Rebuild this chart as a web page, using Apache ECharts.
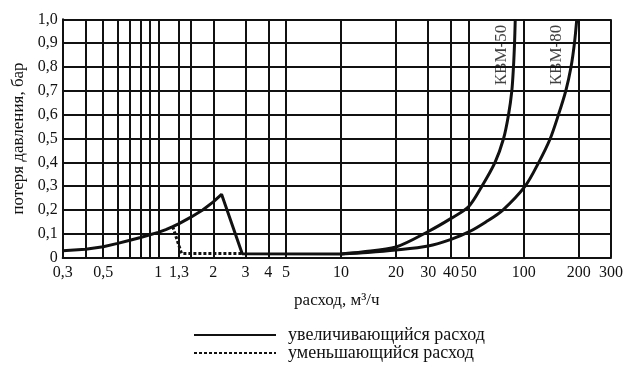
<!DOCTYPE html>
<html>
<head>
<meta charset="utf-8">
<script src="https://cdn.jsdelivr.net/npm/echarts@6/dist/echarts.min.js"></script>
<style>html,body{margin:0;padding:0;background:#fff}#c{width:631px;height:373px}</style>
</head>
<body>
<div id="c"></div>
<script>
// ---- data ----
const xTickLabels = [0.3, 0.5, 1, 1.3, 2, 3, 4, 5, 10, 20, 30, 40, 50, 100, 200, 300];
const xGridValues = [0.4, 0.5, 0.6, 0.7, 0.8, 0.9, 1, 1.3, 1.5, 2, 3, 4, 5, 10, 20, 30, 40, 50, 100, 200, 300];
const increasingLow = [[0.3,0.029],[0.4,0.035],[0.5,0.046],[0.6,0.06],[0.7,0.073],[0.8,0.085],[0.9,0.096],[1.0,0.106],[1.1,0.118],[1.2,0.13],[1.3,0.143],[1.5,0.169],[1.75,0.2],[2.0,0.234],[2.22,0.266],[2.88,0.017],[10,0.016]];
const decreasing = [[1.2,0.13],[1.34,0.018],[2.88,0.018]];
const kbm50 = [[10,0.016],[13,0.024],[20,0.045],[30,0.11],[40,0.165],[50,0.215],[59,0.3],[69.6,0.4],[77.5,0.5],[82.5,0.6],[86,0.7],[87.8,0.8],[89,0.9],[89.8,1.0]];
const kbm80 = [[10,0.016],[14,0.022],[20,0.032],[30,0.049],[40,0.077],[50,0.108],[62,0.15],[76.8,0.2],[101.7,0.3],[120.8,0.4],[139.6,0.5],[154.8,0.6],[169.7,0.7],[181.3,0.8],[189.3,0.9],[194.9,1.0]];
const curveLabels = [[75.8,0.85,'КВМ-50'],[151,0.85,'КВМ-80']];
const legendNames = ['увеличивающийся расход', 'уменьшающийся расход'];

const FONT = 'Liberation Serif';
const INK = '#111';
const chart = echarts.init(document.getElementById('c'), null, {renderer: 'canvas'});
const lineBase = {type: 'line', symbol: 'none', showSymbol: false, z: 5};
chart.setOption({
  animation: false,
  backgroundColor: '#fff',
  grid: {left: 62.7, right: 20, top: 19.3, bottom: 115.3, containLabel: false},
  legend: {
    data: legendNames, orient: 'vertical', left: 188, top: 321,
    itemWidth: 82, itemHeight: 14, itemGap: 0,
    itemStyle: {opacity: 0},
    textStyle: {fontFamily: FONT, fontSize: 18, lineHeight: 18, color: INK, padding: [0,0,0,7]}
  },
  xAxis: {
    type: 'log', min: 0.3, max: 300, logBase: 10,
    name: 'расход, м³/ч', nameLocation: 'middle', nameGap: 34,
    nameTextStyle: {fontFamily: FONT, fontSize: 17, color: INK},
    axisLine: {show: true, lineStyle: {color: INK, width: 2}},
    axisTick: {show: false},
    splitLine: {show: false},
    minorSplitLine: {show: false},
    axisLabel: {
      customValues: xTickLabels, fontFamily: FONT, fontSize: 16, color: INK, margin: 7,
      formatter: v => String(+v.toPrecision(6)).replace('.', ',')
    }
  },
  yAxis: {
    type: 'value', min: 0, max: 1, interval: 0.1,
    name: 'потеря давления, бар', nameLocation: 'middle', nameGap: 33, nameRotate: 90,
    nameTextStyle: {fontFamily: FONT, fontSize: 17, color: INK},
    axisLine: {show: true, lineStyle: {color: INK, width: 2}},
    axisTick: {show: false},
    splitLine: {show: true, lineStyle: {color: INK, width: 2}},
    axisLabel: {
      fontFamily: FONT, fontSize: 16, color: INK, margin: 5,
      formatter: v => v === 0 ? '0' : (+v).toFixed(1).replace('.', ',')
    }
  },
  series: [
    {
      type: 'line', name: 'grid', data: [], z: 1, silent: true,
      markLine: {
        silent: true, symbol: ['none', 'none'], animation: false,
        label: {show: false},
        lineStyle: {color: INK, width: 2, type: 'solid'},
        emphasis: {disabled: true},
        data: xGridValues.map(v => ({xAxis: v}))
      }
    },
    Object.assign({}, lineBase, {name: legendNames[0], data: increasingLow, lineStyle: {color: INK, width: 3}, itemStyle: {color: INK}}),
    Object.assign({}, lineBase, {name: legendNames[0], data: kbm50, smooth: 0.3, lineStyle: {color: INK, width: 3}, itemStyle: {color: INK}}),
    Object.assign({}, lineBase, {name: legendNames[0], data: kbm80, smooth: 0.3, lineStyle: {color: INK, width: 3}, itemStyle: {color: INK}}),
    Object.assign({}, lineBase, {name: legendNames[1], data: decreasing, z: 6, lineStyle: {color: INK, width: 3, type: [3, 2]}, itemStyle: {color: INK}}),
    {
      type: 'scatter', name: 'labels', z: 7, symbolSize: 0, silent: true,
      data: curveLabels.map(d => ({value: [d[0], d[1]], name: d[2]})),
      label: {show: true, formatter: p => p.name, rotate: 90, position: 'inside',
        fontFamily: FONT, fontSize: 17, color: INK}
    }
  ]
});
</script>
</body>
</html>
